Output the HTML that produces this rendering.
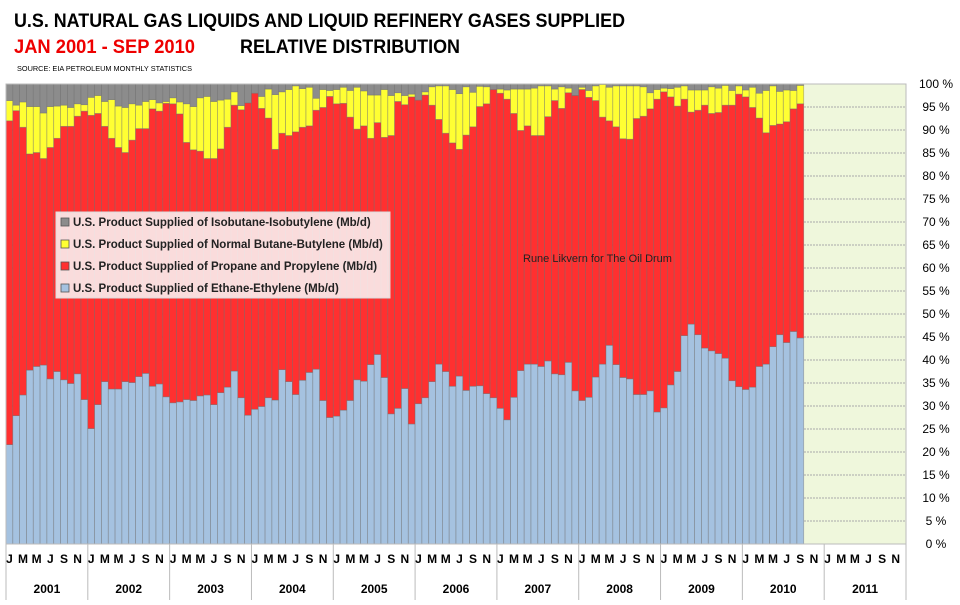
<!DOCTYPE html>
<html><head><meta charset="utf-8"><style>
html,body{margin:0;padding:0;background:#fff;}
body{width:960px;height:600px;overflow:hidden;font-family:"Liberation Sans",sans-serif;}
svg text{font-family:"Liberation Sans",sans-serif;}
</style></head><body>
<svg id="chart" width="960" height="600" xmlns="http://www.w3.org/2000/svg">
<text x="14" y="27" font-size="19" font-weight="bold" fill="#000" textLength="611" lengthAdjust="spacingAndGlyphs">U.S. NATURAL GAS LIQUIDS AND LIQUID REFINERY GASES SUPPLIED</text>
<text x="14" y="53" font-size="19" font-weight="bold" fill="#ee0000" textLength="181" lengthAdjust="spacingAndGlyphs">JAN 2001 - SEP 2010</text>
<text x="240" y="53" font-size="19" font-weight="bold" fill="#000" textLength="220" lengthAdjust="spacingAndGlyphs">RELATIVE DISTRIBUTION</text>
<text x="17" y="71" font-size="7" fill="#000" textLength="175" lengthAdjust="spacingAndGlyphs">SOURCE: EIA PETROLEUM MONTHLY STATISTICS</text>
<g id="grid"></g>
<g id="bars"></g>
<g id="axes"></g>
<text x="523" y="262" font-size="11" fill="#222">Rune Likvern for The Oil Drum</text>
<g id="legend"></g>
</svg>
<script>
const years = ["2001","2002","2003","2004","2005","2006","2007","2008","2009","2010","2011"];
const monthLabels = ["J","","M","","M","","J","","S","","N",""];
const yTicks = [0,5,10,15,20,25,30,35,40,45,50,55,60,65,70,75,80,85,90,95,100];
const ethane = [21.6,27.9,32.4,37.8,38.6,38.9,35.9,37.5,35.7,34.9,37.0,31.4,
25.1,30.3,35.3,33.7,33.7,35.3,35.1,36.4,37.1,34.3,34.8,32.0,
30.7,30.9,31.4,31.2,32.2,32.4,30.3,32.9,34.1,37.6,31.8,28.0,
29.3,29.9,31.8,31.3,37.9,35.3,32.5,35.6,37.3,38.0,31.2,27.5,
27.8,29.1,31.2,35.7,35.4,39.0,41.2,36.2,28.3,29.5,33.8,26.1,
30.5,31.8,35.3,39.1,37.5,34.3,36.5,33.4,34.3,34.4,32.7,31.8,
29.5,27.0,31.9,37.7,39.1,39.1,38.6,39.8,37.0,36.8,39.5,33.3,
31.2,31.9,36.3,39.1,43.2,39.0,36.2,35.9,32.5,32.5,33.3,28.7,
29.6,34.6,37.5,45.3,47.8,45.5,42.6,42.0,41.4,40.4,35.5,34.2,
33.6,34.1,38.6,39.1,42.9,45.5,43.8,46.2,44.8];
const propaneCum = [92.0,94.2,90.6,84.8,85.1,83.8,86.2,88.2,90.8,90.8,93.0,94.1,
93.2,93.6,90.8,88.2,86.2,85.1,87.8,90.3,90.3,94.6,94.1,95.8,
95.7,93.5,87.3,85.7,85.4,83.8,83.8,85.9,90.6,95.4,94.4,95.9,
98.0,94.7,92.6,85.8,89.3,88.8,89.6,90.6,90.9,94.3,94.9,97.3,
95.7,95.8,92.8,90.2,90.9,88.2,91.6,88.4,88.8,96.2,95.5,97.2,
96.5,97.6,95.4,92.3,89.3,87.2,85.8,88.9,90.7,95.1,95.7,98.8,
98.0,96.7,93.6,89.9,90.9,88.8,88.8,92.9,96.4,94.7,98.1,97.5,
98.8,97.1,96.4,92.8,92.0,90.7,88.1,88.0,92.5,93.0,94.6,96.7,
98.3,97.2,95.2,96.7,93.9,94.3,95.4,93.6,93.8,95.4,95.4,97.8,
97.2,94.9,92.6,89.4,91.0,91.3,91.8,94.6,95.7];
const butaneCum = [96.4,95.4,96.1,95.1,95.1,93.7,95.1,95.2,95.4,94.9,95.7,95.5,
97.1,97.5,96.2,96.6,95.2,94.9,95.7,95.4,96.2,96.6,95.9,96.2,
97.0,96.1,95.7,95.1,97.0,97.3,96.2,96.5,96.7,98.3,95.3,95.9,
98.0,97.3,98.9,97.7,98.3,98.8,99.6,99.0,99.3,96.9,98.8,98.6,
98.8,99.3,98.6,99.3,98.5,97.6,97.6,98.8,97.5,98.1,97.5,97.8,
96.5,98.3,99.4,99.6,99.6,98.8,97.9,99.4,98.2,99.5,99.4,98.8,
98.9,98.7,98.9,98.9,98.9,99.1,99.6,99.6,98.9,99.4,99.1,97.5,
99.3,98.6,99.6,99.9,99.3,99.6,99.6,99.6,99.6,99.4,98.1,98.8,
99.1,99.0,99.3,99.6,98.7,98.7,98.7,99.4,99.1,99.7,98.6,99.6,
98.7,99.3,98.0,98.6,99.6,98.4,98.7,98.6,99.7];
const legendLabels = ["U.S. Product Supplied of Isobutane-Isobutylene (Mb/d)","U.S. Product Supplied of Normal Butane-Butylene (Mb/d)","U.S. Product Supplied of Propane and Propylene (Mb/d)","U.S. Product Supplied of Ethane-Ethylene (Mb/d)"];

const NS="http://www.w3.org/2000/svg";
const X0=6, X1=906, Y0=544, Y1=84;
const nSlots=years.length*12, slot=(X1-X0)/nSlots;
const xs=i=>X0+i*slot;
const ys=v=>Y0-(v/100)*(Y0-Y1);
function mk(tag,attrs,parent){const e=document.createElementNS(NS,tag);for(const k in attrs)e.setAttribute(k,attrs[k]);parent.appendChild(e);return e;}
const grid=document.getElementById('grid'), bars=document.getElementById('bars'), axes=document.getElementById('axes'), legend=document.getElementById('legend');

// plot background
const n=ethane.length;
let bg=mk('rect',{x:xs(n),y:Y1,width:X1-xs(n),height:Y0-Y1,fill:'#eff7dc'},grid);


yTicks.forEach(t=>{
  let l=mk('line',{x1:X0,x2:X1,y1:ys(t),y2:ys(t),stroke:'#aaa','stroke-width':1,'stroke-dasharray':'2,1'},grid);
  
  
  let tx=mk('text',{x:936,y:ys(t)+4,'font-size':12,'text-anchor':'middle',fill:'#000'},axes);
  tx.textContent=t+' %';
  
  
});

const colors={eth:'#a5c2e0',pro:'#ff3030',but:'#ffff33',iso:'#8c8c8c'};
for(let i=0;i<n;i++){
  const x=xs(i), w=slot;
  const segs=[['eth',0,ethane[i]],['pro',ethane[i],propaneCum[i]],['but',propaneCum[i],butaneCum[i]],['iso',butaneCum[i],100]];
  segs.forEach(s=>{
    if(s[2]<=s[1])return;
    let r=mk('rect',{x:x,y:ys(s[2]),width:w,height:ys(s[1])-ys(s[2]),fill:colors[s[0]],stroke:'rgba(110,110,110,0.55)','stroke-width':0.7},bars);
    
    
  });
}
let frame=mk('rect',{x:X0,y:Y1,width:X1-X0,height:Y0-Y1,fill:'none',stroke:'#bbb','stroke-width':1},axes);



years.forEach((yr,k)=>{
  const xa=xs(k*12);
  let sep=mk('line',{x1:xa,x2:xa,y1:Y0,y2:600,stroke:'#bbb','stroke-width':1},axes);
  
  
  monthLabels.forEach((m,j)=>{
    if(!m)return;
    let t=mk('text',{x:xs(k*12+j)+slot/2,y:563,'font-size':12,'font-weight':'bold','text-anchor':'middle',fill:'#000'},axes);
    t.textContent=m;
    
    
  });
  let yt=mk('text',{x:xa+6*slot,y:593,'font-size':12,'font-weight':'bold','text-anchor':'middle',fill:'#000'},axes);
  yt.textContent=yr;
  
  
});
let endSep=mk('line',{x1:X1,x2:X1,y1:Y0,y2:600,stroke:'#bbb','stroke-width':1},axes);



// legend
let lb=mk('rect',{x:56,y:212,width:334,height:86,fill:'rgba(250,240,240,0.9)',stroke:'#ddd'},legend);


const legColors=[colors.iso,colors.but,colors.pro,colors.eth];
legendLabels.forEach((lab,i)=>{
  const y=222+i*22;
  let sw=mk('rect',{x:61,y:y-4,width:8,height:8,fill:legColors[i],stroke:'#555','stroke-width':0.8},legend);
  
  
  let t=mk('text',{x:73,y:y+4,'font-size':11.5,'font-weight':'bold',fill:'#222'},legend);
  t.textContent=lab;
  
  
});
</script>
</body></html>
